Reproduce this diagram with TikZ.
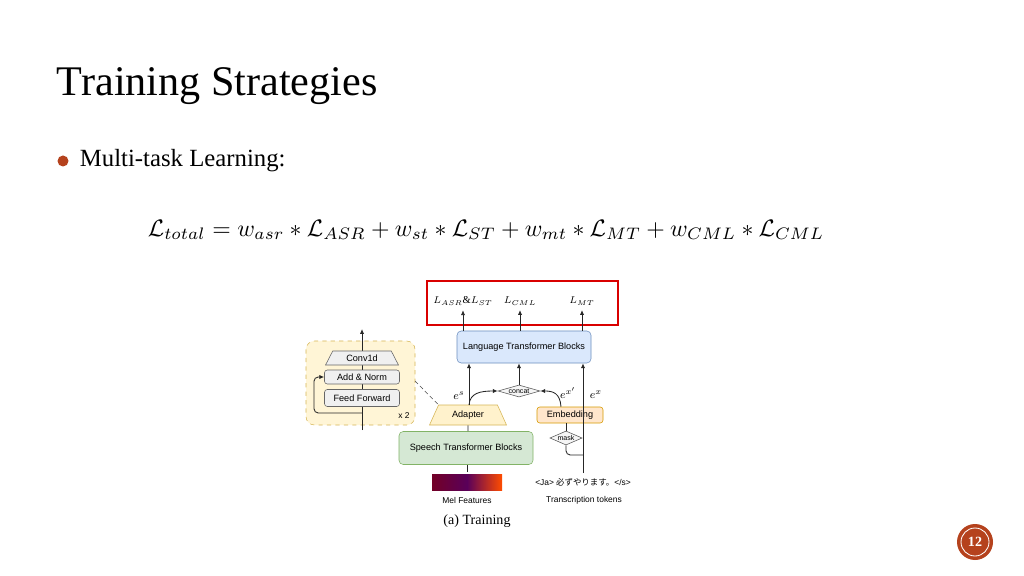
\documentclass[tikz,border=0pt]{standalone}
\usepackage{fontspec}
\usepackage{amsmath}
\setmainfont{Liberation Serif}
\newfontfamily\diagfont{Liberation Sans}
\newfontfamily\cjkfont{Noto Sans CJK JP}
\usetikzlibrary{shapes.geometric, arrows.meta}
\definecolor{bluefill}{HTML}{DAE8FC}\definecolor{blueline}{HTML}{6C8EBF}
\definecolor{greenfill}{HTML}{D5E8D4}\definecolor{greenline}{HTML}{82B366}
\definecolor{yelfill}{HTML}{FFF2CC}\definecolor{yelline}{HTML}{D6B656}
\definecolor{orfill}{HTML}{FFE6CC}\definecolor{orline}{HTML}{D79B00}
\definecolor{accent}{HTML}{B5421D}
\tikzset{
  block/.style={draw, rounded corners=3pt, font=\diagfont\fontsize{6.5}{7}\selectfont, inner sep=0pt},
  grayblock/.style={draw=gray!80!black, fill=gray!12, rounded corners=2pt, font=\diagfont\fontsize{6.5}{7}\selectfont, inner sep=0pt},
  trap/.style={draw, trapezium, trapezium stretches=true, font=\diagfont\fontsize{6.5}{7}\selectfont, inner sep=0pt},
  dia/.style={draw=gray!70!black, fill=gray!8, diamond, aspect=3, inner sep=0pt, font=\diagfont\fontsize{5}{6}\selectfont},
  flow/.style={gray!30!black, semithick, -{Latex[length=3.5pt,width=3pt]}},
  wire/.style={gray!30!black, semithick},
  lbl/.style={font=\diagfont\fontsize{6}{7}\selectfont},
}
\begin{document}
\begin{tikzpicture}[x=0.025cm, y=-0.025cm]
    \useasboundingbox[fill=white] (0,0) rectangle (1024,576);

    % Title and bullet
    \node[anchor=west, font=\fontsize{30}{33}\selectfont] (title) at (52,86) {Training Strategies};
    \fill[accent] (63,161) circle (5.5);
    \node[anchor=west, font=\fontsize{17.6}{20}\selectfont] (bullet) at (75,161) {Multi-task Learning:};

    % Loss formula
    \node (formula) at (486,230) {\resizebox{16.9cm}{!}{$\mathcal{L}_{total}=w_{asr}*\mathcal{L}_{ASR}+w_{st}*\mathcal{L}_{ST}+w_{mt}*\mathcal{L}_{MT}+w_{CML}*\mathcal{L}_{CML}$}};

    % Outputs
    \draw[red!85!black, thick] (427,281) rectangle (618,325);
    \node[font=\fontsize{7.5}{8}\selectfont] (lasr) at (463,301) {$L_{ASR}\&L_{ST}$};
    \node[font=\fontsize{7.5}{8}\selectfont] (lcml) at (520,301) {$L_{CML}$};
    \node[font=\fontsize{7.5}{8}\selectfont] (lmt) at (582,301) {$L_{MT}$};

    % Blocks
    \node[block, fill=bluefill, draw=blueline, minimum width=134*0.025cm, minimum height=32*0.025cm] (lang) at (524,347) {Language Transformer Blocks};
    \node[block, fill=greenfill, draw=greenline, minimum width=134*0.025cm, minimum height=33*0.025cm] (speech) at (466,448) {Speech Transformer Blocks};
    \node[trap, fill=yelfill, draw=yelline, minimum width=77*0.025cm, minimum height=20*0.025cm] (adapter) at (468,415) {Adapter};
    \node[block, rounded corners=2pt, fill=orfill, draw=orline, minimum width=66*0.025cm, minimum height=16*0.025cm] (embed) at (570,415) {Embedding};
    \node[dia, minimum width=42*0.025cm, minimum height=12*0.025cm] (concat) at (519,391) {concat};
    \node[dia, minimum width=30*0.025cm, minimum height=14*0.025cm] (mask) at (566,438) {mask};

    % Inputs
    \shade[left color=purple!60!black, right color=orange!60!red, middle color=violet!70!black] (432,474) rectangle (502,490);
    \node[lbl] (mel) at (467,500) {Mel Features};
    \node[lbl] (tok) at (584,500) {Transcription tokens};
    \node[font=\fontsize{6}{7}\selectfont] (txt) at (583,482) {{\diagfont<Ja>} {\cjkfont 必ずやります。}{\diagfont</s>}};
    \node[font=\fontsize{10}{12}\selectfont] (cap) at (477,521) {(a) Training};

    % Connectors
    \draw[flow] (lang.north -| lasr) -- (lasr.south);
    \draw[flow] (lang.north -| lcml) -- (lcml.south);
    \draw[flow] (lang.north -| lmt) -- (lmt.south);
    \draw[flow] (adapter.north -| 469,0) -- (lang.south -| 469,0);
    \draw[flow] (concat.north) -- (lang.south -| concat);
    \draw[flow] (txt.north -| 583,0) -- (lang.south -| 583,0);
    \draw[flow] (469,405) .. controls (470,393) and (480,391) .. (concat.west);
    \draw[flow] (embed.north -| 561,0) .. controls (560,393) and (553,391) .. (concat.east);
    \draw[wire] (speech.north -| adapter) -- (adapter.south);
    \draw[wire] (467,472) -- (speech.south -| 467,0);
    \draw[wire] (embed.south -| mask) -- (mask.north);
    \draw[wire, rounded corners=3pt] (mask.south) -- (566,455) -- (583,455);
    \node[font=\fontsize{8}{9}\selectfont] (es) at (459,396) {$e^{s}$};
    \node[font=\fontsize{8}{9}\selectfont] (exp) at (568,393) {$e^{x'}$};
    \node[font=\fontsize{8}{9}\selectfont] (ex) at (596,395) {$e^{x}$};

    % Adapter detail
    \draw[yelline, fill=yelfill!80, dashed, rounded corners=6pt] (306,341) rectangle (415,425);
    \draw[gray!30!black, semithick, -{Latex[length=3.5pt,width=3pt]}] (362,430) -- (362,329);
    \node[trap, fill=gray!12, draw=gray!80!black, minimum width=73*0.025cm, minimum height=14*0.025cm] (conv) at (362,358) {Conv1d};
    \node[grayblock, minimum width=75*0.025cm, minimum height=14*0.025cm] (addn) at (362,377) {Add \& Norm};
    \node[grayblock, minimum width=75*0.025cm, minimum height=17*0.025cm] (ff) at (362,398) {Feed Forward};
    \draw[flow, rounded corners=3pt] (362,413) -- (314,413) -- (314,377) -- (addn.west);
    \node[lbl] (rep) at (404,416) {x 2};
    \draw[gray!60!black, densely dashed] (415,381) -- (adapter.top left corner);

    % Page number
    \fill[accent] (975,542) circle (18);
    \draw[white, line width=0.6pt] (975,542) circle (14);
    \node[white, font=\bfseries\fontsize{10}{12}\selectfont] (page) at (975,542) {12};
\end{tikzpicture}
\end{document}
